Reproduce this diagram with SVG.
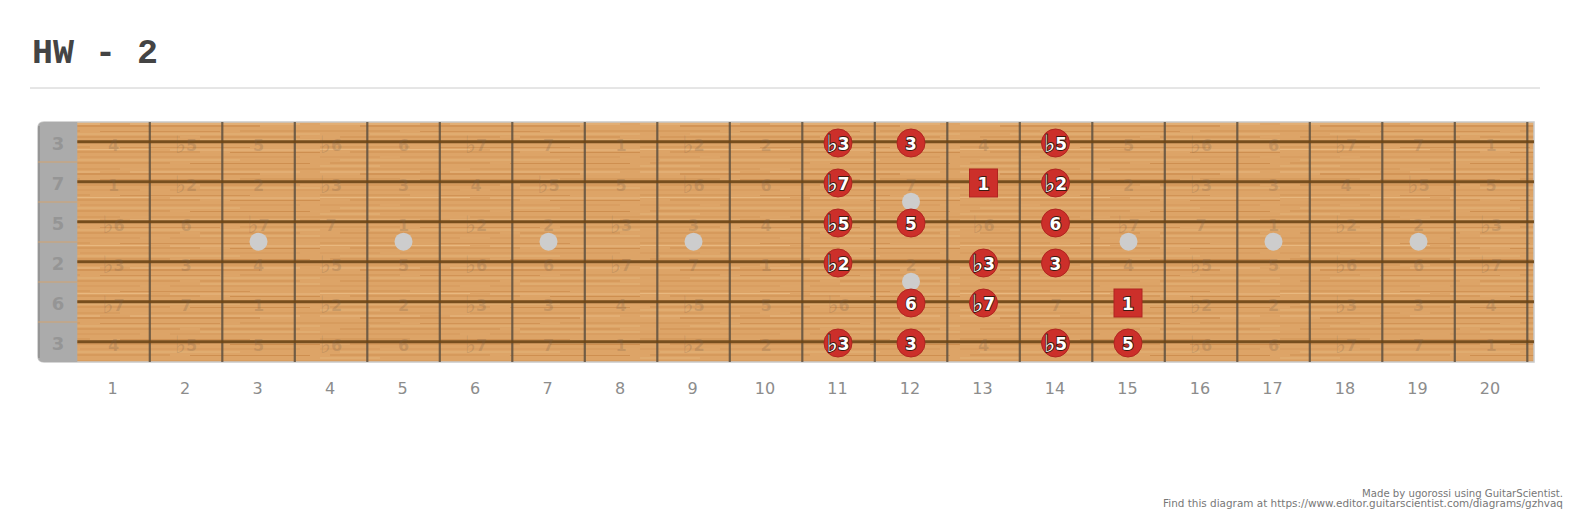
<svg xmlns="http://www.w3.org/2000/svg" width="1573" height="519" viewBox="0 0 1573 519">
<style>
.title{font-family:"Liberation Mono","Courier New",monospace;font-weight:bold;font-size:35px;fill:#444}
.fn{font-family:"DejaVu Sans",Verdana,sans-serif;font-size:16px;fill:#8c8c8c;text-anchor:middle}
.nut{font-family:"DejaVu Sans",Verdana,sans-serif;font-weight:bold;font-size:18px;fill:#959595;text-anchor:middle;dominant-baseline:central}
.gh{font-family:"DejaVu Sans",Verdana,sans-serif;font-weight:bold;font-size:16px;fill:#7a6048;fill-opacity:0.25;text-anchor:middle;dominant-baseline:central}
.mk{fill:#cc2f2a;stroke:#b02520;stroke-width:1}
.mt{font-family:"DejaVu Sans",Verdana,sans-serif;font-weight:bold;font-size:17px;fill:#fff;stroke:#3a1a10;stroke-width:1.8;paint-order:stroke;text-anchor:middle;dominant-baseline:central}
.fl{font-size:24px;font-weight:bold}
.str{stroke:#6b4516;stroke-width:3;stroke-opacity:0.9}
.fret{stroke:#5e5040;stroke-width:2.2;stroke-opacity:0.85}
.inlay{fill:#cdcdcd}
.foot{font-family:"DejaVu Sans",Verdana,sans-serif;font-size:10px;fill:#777;text-anchor:end}
</style>
<defs>
<pattern id="wood" patternUnits="userSpaceOnUse" x="0" y="0" width="320" height="48">
<rect width="320" height="48" fill="#dda467"/>
<g stroke="#bf7a3a" stroke-opacity="0.5" fill="none">
<path d="M0 3 H90 M120 3.5 H250" stroke-width="0.8"/>
<path d="M30 8 H200 M230 8.5 H320" stroke-width="1.2"/>
<path d="M0 13 H60 M80 13 H300" stroke-width="0.6"/>
<path d="M10 19 H170 M190 19.5 H310" stroke-width="1"/>
<path d="M0 25 H120 M150 25 H320" stroke-width="0.7"/>
<path d="M40 30 H260" stroke-width="1.4"/>
<path d="M0 35 H80 M100 35.5 H220 M240 35 H320" stroke-width="0.8"/>
<path d="M20 41 H180 M200 41 H300" stroke-width="1"/>
<path d="M0 46 H140 M170 46 H320" stroke-width="0.6"/>
</g>
<g stroke="#f0c894" stroke-opacity="0.55" fill="none">
<path d="M0 5.5 H150 M170 6 H320" stroke-width="1"/>
<path d="M20 16 H240" stroke-width="0.8"/>
<path d="M0 28 H100 M130 28 H300" stroke-width="1"/>
<path d="M50 38 H320" stroke-width="0.8"/>
<path d="M0 22 H60 M200 44 H320" stroke-width="0.8"/>
</g>
</pattern>
</defs>
<rect width="1573" height="519" fill="#fff"/>
<text class="title" x="32" y="63">HW - 2</text>
<line x1="30" y1="88" x2="1540" y2="88" stroke="#cccccc" stroke-width="1"/>

<g id="board">
<path d="M44 122 H1534 V362 H44 Q38 362 38 356 V128 Q38 122 44 122 Z" fill="url(#wood)" stroke="#c9c9c9" stroke-width="1.5"/>
<path d="M44 122 H77.3 V362 H44 Q38 362 38 356 V128 Q38 122 44 122 Z" fill="#ababab"/>
<line x1="39" y1="126" x2="39" y2="358" stroke="#8f8f8f" stroke-width="1.5"/>
<g stroke="#d2a370" stroke-width="1">
<line x1="38" y1="162" x2="77" y2="162"/><line x1="38" y1="202" x2="77" y2="202"/><line x1="38" y1="242" x2="77" y2="242"/><line x1="38" y1="282" x2="77" y2="282"/><line x1="38" y1="322" x2="77" y2="322"/>
</g>
<text class="nut" x="58" y="143">3</text><text class="nut" x="58" y="183">7</text><text class="nut" x="58" y="223">5</text><text class="nut" x="58" y="263">2</text><text class="nut" x="58" y="303">6</text><text class="nut" x="58" y="343">3</text>
</g>

<g id="frets">
<line class="fret" x1="149.8" y1="122" x2="149.8" y2="362"/><line class="fret" x1="222.3" y1="122" x2="222.3" y2="362"/><line class="fret" x1="294.8" y1="122" x2="294.8" y2="362"/><line class="fret" x1="367.3" y1="122" x2="367.3" y2="362"/><line class="fret" x1="439.8" y1="122" x2="439.8" y2="362"/><line class="fret" x1="512.3" y1="122" x2="512.3" y2="362"/><line class="fret" x1="584.8" y1="122" x2="584.8" y2="362"/><line class="fret" x1="657.3" y1="122" x2="657.3" y2="362"/><line class="fret" x1="729.8" y1="122" x2="729.8" y2="362"/><line class="fret" x1="802.3" y1="122" x2="802.3" y2="362"/><line class="fret" x1="874.8" y1="122" x2="874.8" y2="362"/><line class="fret" x1="947.3" y1="122" x2="947.3" y2="362"/><line class="fret" x1="1019.8" y1="122" x2="1019.8" y2="362"/><line class="fret" x1="1092.3" y1="122" x2="1092.3" y2="362"/><line class="fret" x1="1164.8" y1="122" x2="1164.8" y2="362"/><line class="fret" x1="1237.3" y1="122" x2="1237.3" y2="362"/><line class="fret" x1="1309.8" y1="122" x2="1309.8" y2="362"/><line class="fret" x1="1382.3" y1="122" x2="1382.3" y2="362"/><line class="fret" x1="1454.8" y1="122" x2="1454.8" y2="362"/><line class="fret" x1="1527.3" y1="122" x2="1527.3" y2="362"/>
</g>

<g id="inlays">
<circle class="inlay" cx="258.5" cy="241.7" r="9"/><circle class="inlay" cx="403.5" cy="241.7" r="9"/><circle class="inlay" cx="548.5" cy="241.7" r="9"/><circle class="inlay" cx="693.5" cy="241.7" r="9"/><circle class="inlay" cx="911" cy="201.7" r="9"/><circle class="inlay" cx="911" cy="281.7" r="9"/><circle class="inlay" cx="1128.5" cy="241.7" r="9"/><circle class="inlay" cx="1273.5" cy="241.7" r="9"/><circle class="inlay" cx="1418.5" cy="241.7" r="9"/>
</g>

<g id="strings">
<line class="str" x1="77.3" y1="141.7" x2="1534" y2="141.7"/><line class="str" x1="77.3" y1="181.7" x2="1534" y2="181.7"/><line class="str" x1="77.3" y1="221.7" x2="1534" y2="221.7"/><line class="str" x1="77.3" y1="261.7" x2="1534" y2="261.7"/><line class="str" x1="77.3" y1="301.7" x2="1534" y2="301.7"/><line class="str" x1="77.3" y1="341.7" x2="1534" y2="341.7"/>
</g>

<g id="ghost-labels">
<g transform="translate(0,145)">
<text class="gh" x="113.5" y="0">4</text><text class="gh" x="186" y="0"><tspan class="fl">♭</tspan>5</text><text class="gh" x="258.5" y="0">5</text><text class="gh" x="331" y="0"><tspan class="fl">♭</tspan>6</text><text class="gh" x="403.5" y="0">6</text><text class="gh" x="476" y="0"><tspan class="fl">♭</tspan>7</text><text class="gh" x="548.5" y="0">7</text><text class="gh" x="621" y="0">1</text><text class="gh" x="693.5" y="0"><tspan class="fl">♭</tspan>2</text><text class="gh" x="766" y="0">2</text><text class="gh" x="983.5" y="0">4</text><text class="gh" x="1128.5" y="0">5</text><text class="gh" x="1201" y="0"><tspan class="fl">♭</tspan>6</text><text class="gh" x="1273.5" y="0">6</text><text class="gh" x="1346" y="0"><tspan class="fl">♭</tspan>7</text><text class="gh" x="1418.5" y="0">7</text><text class="gh" x="1491" y="0">1</text>
</g>
<g transform="translate(0,185)">
<text class="gh" x="113.5" y="0">1</text><text class="gh" x="186" y="0"><tspan class="fl">♭</tspan>2</text><text class="gh" x="258.5" y="0">2</text><text class="gh" x="331" y="0"><tspan class="fl">♭</tspan>3</text><text class="gh" x="403.5" y="0">3</text><text class="gh" x="476" y="0">4</text><text class="gh" x="548.5" y="0"><tspan class="fl">♭</tspan>5</text><text class="gh" x="621" y="0">5</text><text class="gh" x="693.5" y="0"><tspan class="fl">♭</tspan>6</text><text class="gh" x="766" y="0">6</text><text class="gh" x="911" y="0">7</text><text class="gh" x="1128.5" y="0">2</text><text class="gh" x="1201" y="0"><tspan class="fl">♭</tspan>3</text><text class="gh" x="1273.5" y="0">3</text><text class="gh" x="1346" y="0">4</text><text class="gh" x="1418.5" y="0"><tspan class="fl">♭</tspan>5</text><text class="gh" x="1491" y="0">5</text>
</g>
<g transform="translate(0,225)">
<text class="gh" x="113.5" y="0"><tspan class="fl">♭</tspan>6</text><text class="gh" x="186" y="0">6</text><text class="gh" x="258.5" y="0"><tspan class="fl">♭</tspan>7</text><text class="gh" x="331" y="0">7</text><text class="gh" x="403.5" y="0">1</text><text class="gh" x="476" y="0"><tspan class="fl">♭</tspan>2</text><text class="gh" x="548.5" y="0">2</text><text class="gh" x="621" y="0"><tspan class="fl">♭</tspan>3</text><text class="gh" x="693.5" y="0">3</text><text class="gh" x="766" y="0">4</text><text class="gh" x="983.5" y="0"><tspan class="fl">♭</tspan>6</text><text class="gh" x="1128.5" y="0"><tspan class="fl">♭</tspan>7</text><text class="gh" x="1201" y="0">7</text><text class="gh" x="1273.5" y="0">1</text><text class="gh" x="1346" y="0"><tspan class="fl">♭</tspan>2</text><text class="gh" x="1418.5" y="0">2</text><text class="gh" x="1491" y="0"><tspan class="fl">♭</tspan>3</text>
</g>
<g transform="translate(0,265)">
<text class="gh" x="113.5" y="0"><tspan class="fl">♭</tspan>3</text><text class="gh" x="186" y="0">3</text><text class="gh" x="258.5" y="0">4</text><text class="gh" x="331" y="0"><tspan class="fl">♭</tspan>5</text><text class="gh" x="403.5" y="0">5</text><text class="gh" x="476" y="0"><tspan class="fl">♭</tspan>6</text><text class="gh" x="548.5" y="0">6</text><text class="gh" x="621" y="0"><tspan class="fl">♭</tspan>7</text><text class="gh" x="693.5" y="0">7</text><text class="gh" x="766" y="0">1</text><text class="gh" x="911" y="0">2</text><text class="gh" x="1128.5" y="0">4</text><text class="gh" x="1201" y="0"><tspan class="fl">♭</tspan>5</text><text class="gh" x="1273.5" y="0">5</text><text class="gh" x="1346" y="0"><tspan class="fl">♭</tspan>6</text><text class="gh" x="1418.5" y="0">6</text><text class="gh" x="1491" y="0"><tspan class="fl">♭</tspan>7</text>
</g>
<g transform="translate(0,305)">
<text class="gh" x="113.5" y="0"><tspan class="fl">♭</tspan>7</text><text class="gh" x="186" y="0">7</text><text class="gh" x="258.5" y="0">1</text><text class="gh" x="331" y="0"><tspan class="fl">♭</tspan>2</text><text class="gh" x="403.5" y="0">2</text><text class="gh" x="476" y="0"><tspan class="fl">♭</tspan>3</text><text class="gh" x="548.5" y="0">3</text><text class="gh" x="621" y="0">4</text><text class="gh" x="693.5" y="0"><tspan class="fl">♭</tspan>5</text><text class="gh" x="766" y="0">5</text><text class="gh" x="838.5" y="0"><tspan class="fl">♭</tspan>6</text><text class="gh" x="1056" y="0">7</text><text class="gh" x="1201" y="0"><tspan class="fl">♭</tspan>2</text><text class="gh" x="1273.5" y="0">2</text><text class="gh" x="1346" y="0"><tspan class="fl">♭</tspan>3</text><text class="gh" x="1418.5" y="0">3</text><text class="gh" x="1491" y="0">4</text>
</g>
<g transform="translate(0,345)">
<text class="gh" x="113.5" y="0">4</text><text class="gh" x="186" y="0"><tspan class="fl">♭</tspan>5</text><text class="gh" x="258.5" y="0">5</text><text class="gh" x="331" y="0"><tspan class="fl">♭</tspan>6</text><text class="gh" x="403.5" y="0">6</text><text class="gh" x="476" y="0"><tspan class="fl">♭</tspan>7</text><text class="gh" x="548.5" y="0">7</text><text class="gh" x="621" y="0">1</text><text class="gh" x="693.5" y="0"><tspan class="fl">♭</tspan>2</text><text class="gh" x="766" y="0">2</text><text class="gh" x="983.5" y="0">4</text><text class="gh" x="1201" y="0"><tspan class="fl">♭</tspan>6</text><text class="gh" x="1273.5" y="0">6</text><text class="gh" x="1346" y="0"><tspan class="fl">♭</tspan>7</text><text class="gh" x="1418.5" y="0">7</text><text class="gh" x="1491" y="0">1</text>
</g>
</g>

<g id="markers">
<g id="m-s1-f11"><circle class="mk" cx="838" cy="143" r="14"/><text class="mt" x="838" y="144"><tspan class="fl">♭</tspan>3</text></g>
<g id="m-s1-f12"><circle class="mk" cx="911" cy="143" r="14"/><text class="mt" x="911" y="144">3</text></g>
<g id="m-s1-f14"><circle class="mk" cx="1055.5" cy="143" r="14"/><text class="mt" x="1055.5" y="144"><tspan class="fl">♭</tspan>5</text></g>
<g id="m-s2-f11"><circle class="mk" cx="838" cy="183" r="14"/><text class="mt" x="838" y="184"><tspan class="fl">♭</tspan>7</text></g>
<g id="m-s2-f13"><rect class="mk" x="969.5" y="169" width="28" height="28"/><text class="mt" x="983.5" y="184">1</text></g>
<g id="m-s2-f14"><circle class="mk" cx="1055.5" cy="183" r="14"/><text class="mt" x="1055.5" y="184"><tspan class="fl">♭</tspan>2</text></g>
<g id="m-s3-f11"><circle class="mk" cx="838" cy="223" r="14"/><text class="mt" x="838" y="224"><tspan class="fl">♭</tspan>5</text></g>
<g id="m-s3-f12"><circle class="mk" cx="911" cy="223" r="14"/><text class="mt" x="911" y="224">5</text></g>
<g id="m-s3-f14"><circle class="mk" cx="1055.5" cy="223" r="14"/><text class="mt" x="1055.5" y="224">6</text></g>
<g id="m-s4-f11"><circle class="mk" cx="838" cy="263" r="14"/><text class="mt" x="838" y="264"><tspan class="fl">♭</tspan>2</text></g>
<g id="m-s4-f13"><circle class="mk" cx="983.5" cy="263" r="14"/><text class="mt" x="983.5" y="264"><tspan class="fl">♭</tspan>3</text></g>
<g id="m-s4-f14"><circle class="mk" cx="1055.5" cy="263" r="14"/><text class="mt" x="1055.5" y="264">3</text></g>
<g id="m-s5-f12"><circle class="mk" cx="911" cy="303" r="14"/><text class="mt" x="911" y="304">6</text></g>
<g id="m-s5-f13"><circle class="mk" cx="983.5" cy="303" r="14"/><text class="mt" x="983.5" y="304"><tspan class="fl">♭</tspan>7</text></g>
<g id="m-s5-f15"><rect class="mk" x="1114" y="289" width="28" height="28"/><text class="mt" x="1128" y="304">1</text></g>
<g id="m-s6-f11"><circle class="mk" cx="838" cy="343" r="14"/><text class="mt" x="838" y="344"><tspan class="fl">♭</tspan>3</text></g>
<g id="m-s6-f12"><circle class="mk" cx="911" cy="343" r="14"/><text class="mt" x="911" y="344">3</text></g>
<g id="m-s6-f14"><circle class="mk" cx="1055.5" cy="343" r="14"/><text class="mt" x="1055.5" y="344"><tspan class="fl">♭</tspan>5</text></g>
<g id="m-s6-f15"><circle class="mk" cx="1128" cy="343" r="14"/><text class="mt" x="1128" y="344">5</text></g>
</g>

<g id="fret-numbers">
<text class="fn" x="112.5" y="394">1</text><text class="fn" x="185" y="394">2</text><text class="fn" x="257.5" y="394">3</text><text class="fn" x="330" y="394">4</text><text class="fn" x="402.5" y="394">5</text><text class="fn" x="475" y="394">6</text><text class="fn" x="547.5" y="394">7</text><text class="fn" x="620" y="394">8</text><text class="fn" x="692.5" y="394">9</text><text class="fn" x="765" y="394">10</text><text class="fn" x="837.5" y="394">11</text><text class="fn" x="910" y="394">12</text><text class="fn" x="982.5" y="394">13</text><text class="fn" x="1055" y="394">14</text><text class="fn" x="1127.5" y="394">15</text><text class="fn" x="1200" y="394">16</text><text class="fn" x="1272.5" y="394">17</text><text class="fn" x="1345" y="394">18</text><text class="fn" x="1417.5" y="394">19</text><text class="fn" x="1490" y="394">20</text>
</g>

<g id="footer">
<text class="foot" x="1563" y="497" textLength="201" lengthAdjust="spacingAndGlyphs">Made by ugorossi using GuitarScientist.</text>
<text class="foot" x="1563" y="507" textLength="400" lengthAdjust="spacingAndGlyphs">Find this diagram at https://www.editor.guitarscientist.com/diagrams/gzhvaq</text>
</g>
</svg>
